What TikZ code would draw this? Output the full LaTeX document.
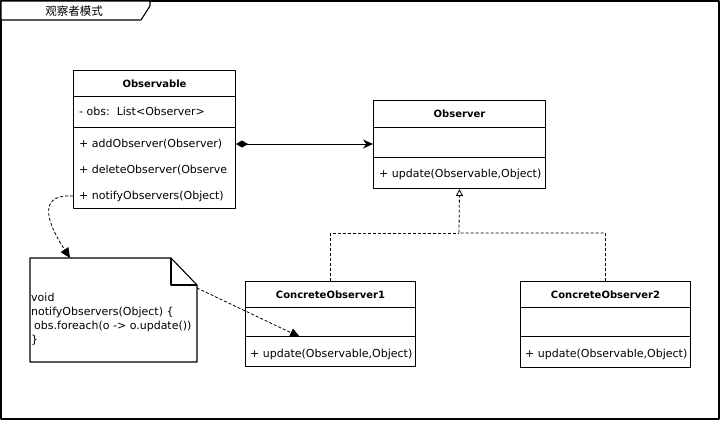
\documentclass[tikz,border=0pt]{standalone}
\usepackage{fontspec}
\setmainfont{DejaVu Sans}
\newfontfamily\cjk{Noto Sans CJK SC}
\usetikzlibrary{arrows.meta}
\begin{document}
\begin{tikzpicture}[x=1pt,y=-1pt,line join=round,
  comp/.style={draw,line width=1pt,anchor=north west,inner sep=0pt,
    minimum width=#1,font=\fontsize{10}{12}\selectfont},
  hdr/.style={comp=#1,font=\fontsize{10}{12}\selectfont\bfseries},
  member/.style={anchor=west,inner sep=0pt,font=\fontsize{11}{13}\selectfont},
  conn/.style={line width=1pt},
  dep/.style={line width=0.8pt,dashed,dash pattern=on 3pt off 2pt}]
\useasboundingbox (0,0) rectangle (721,421);
% frame
\draw[line width=1.3pt] (1,1) rectangle (719,419);
\draw[line width=1.1pt,fill=white] (1,1) -- (150,1) -- (150,6) -- (141,20) -- (1,20) -- cycle;
\node[font=\cjk\fontsize{11.5}{13}\selectfont] (title) at (74,11) {观察者模式};

% Observable
\node[hdr=162pt,minimum height=26pt] (obsvH) at (73,70) {Observable};
\node[comp=162pt,minimum height=31pt] (obsvA) at (73,96) {};
\node[comp=162pt,minimum height=81pt] (obsvM) at (73,127) {};
\node[member] (obsvA1) at (79,111) {- obs:\ \ List<Observer>};
\node[member] (obsvM1) at (79,144) {+ addObserver(Observer)};
\node[member] (obsvM2) at (79,170) {+ deleteObserver(Observe};
\node[member] (obsvM3) at (79,196) {+ notifyObservers(Object)};

% Observer
\node[hdr=172pt,minimum height=27pt] (obsH) at (373,100) {Observer};
\node[comp=172pt,minimum height=30pt] (obsA) at (373,127) {};
\node[comp=172pt,minimum height=31pt] (obsM) at (373,157) {};
\node[member] (obsM1) at (379,174) {+ update(Observable,Object)};

% ConcreteObserver1
\node[hdr=170pt,minimum height=26pt] (c1H) at (245,281) {ConcreteObserver1};
\node[comp=170pt,minimum height=29pt] (c1A) at (245,307) {};
\node[comp=170pt,minimum height=30pt] (c1M) at (245,336) {};
\node[member] (c1M1) at (250,354) {+ update(Observable,Object)};

% ConcreteObserver2
\node[hdr=170pt,minimum height=26pt] (c2H) at (520,281) {ConcreteObserver2};
\node[comp=170pt,minimum height=29pt] (c2A) at (520,307) {};
\node[comp=170pt,minimum height=31pt] (c2M) at (520,336) {};
\node[member] (c2M1) at (525,354) {+ update(Observable,Object)};

% note
\draw[line width=1.1pt,fill=white] (30,258) -- (171,258) -- (197,285) -- (197,362) -- (30,362) -- cycle;
\draw[line width=1.1pt] (171,258) -- (171,285) -- (197,285);
\node[anchor=north west,inner sep=0pt,align=left,font=\fontsize{11}{14}\selectfont] (note) at (31,293)
  {void\\notifyObservers(Object) \{\\\hspace{3pt}obs.foreach(o -> o.update())\\\}};
\coordinate (noteTop) at (70,258);
\coordinate (noteCorner) at (197,288);
\coordinate (c1Pt) at (300,337);
\coordinate (join) at (459,233);

% connectors
\draw[conn,{Diamond[length=12pt,width=7pt]}-{Stealth[length=10pt,width=9pt]}]
  (obsvM.east |- obsvM1) -- (obsA.west |- obsvM1);
\draw[dep] (c1H.north) |- (join);
\draw[dep,-{Triangle[open,length=7pt,width=7pt]}] (c2H.north) |- (join) -- (obsM.south);
\draw[dep,-{Stealth[length=10pt,width=9pt,inset=0pt]}]
  (obsvM.west |- obsvM3) .. controls (42,194) and (42,215) .. (noteTop);
\draw[dep,-{Stealth[length=10pt,width=9pt,inset=0pt]}] (noteCorner) -- (c1Pt);
\end{tikzpicture}
\end{document}
